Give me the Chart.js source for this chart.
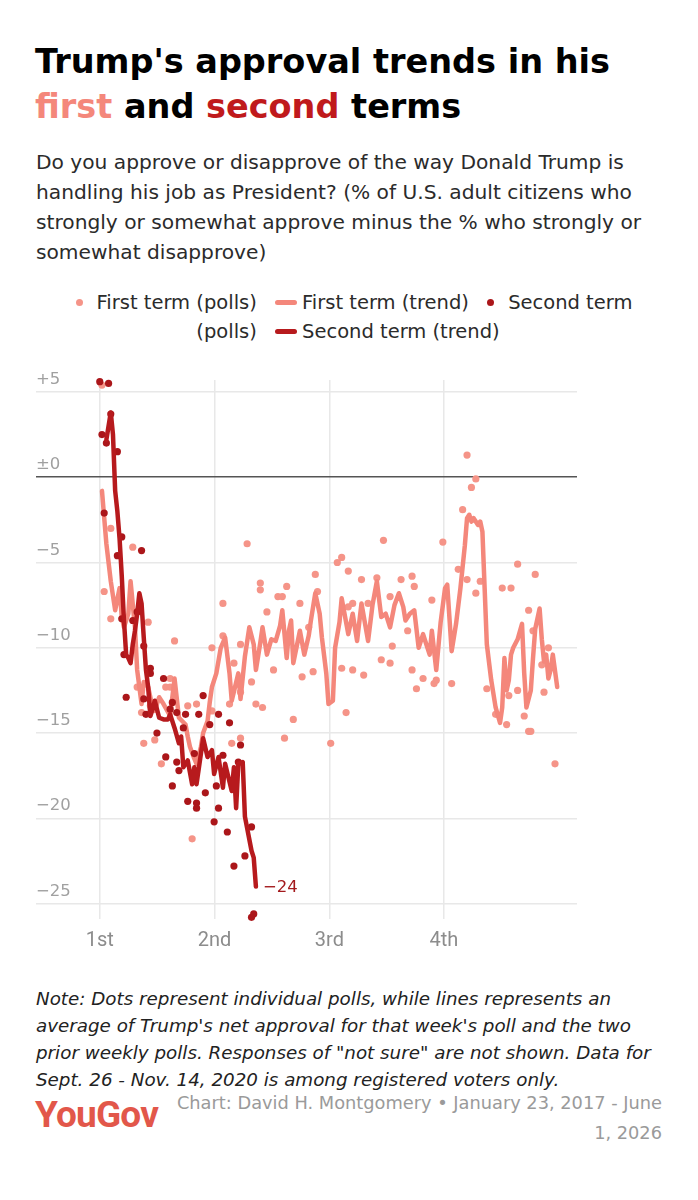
<!DOCTYPE html>
<html>
<head>
<meta charset="utf-8">
<title>Trump's approval trends in his first and second terms</title>
<script src="https://cdn.jsdelivr.net/npm/chart.js@4.4.1/dist/chart.umd.min.js"></script>
<style>
    body {
        margin: 0;
        background: #fff;
        font-family: "DejaVu Sans", Roboto, sans-serif;
        color: #222;
    }
    #page {
        position: relative;
        width: 698px;
        height: 1200px;
        overflow: hidden;
    }
    h1 {
        position: absolute;
        left: 35px;
        top: 39px;
        margin: 0;
        font-size: 33.5px;
        line-height: 45px;
        font-weight: 700;
        color: #000;
        letter-spacing: 0;
        white-space: nowrap;
    }
    h1 .first { color: #f4877b; }
    h1 .second { color: #c01a1c; }
    #subtitle {
        position: absolute;
        left: 36px;
        top: 147px;
        width: 650px;
        margin: 0;
        font-size: 20.2px;
        line-height: 30px;
        color: #2b2b2b;
    }
    #legenda {
        position: absolute;
        left: 45px;
        top: 288px;
        width: 612px;
        text-align: center;
        font-size: 19.5px;
        line-height: 29px;
        color: #2b2b2b;
    }
    #legenda .item { margin: 0 6px; }
    #legenda .dot {
        display: inline-block;
        width: 7px;
        height: 7px;
        border-radius: 50%;
        margin-right: 14px;
        vertical-align: 3px;
    }
    #legenda .line {
        display: inline-block;
        width: 22px;
        height: 5px;
        border-radius: 3px;
        margin-right: 5px;
        vertical-align: 4px;
    }
    #grafico {
        position: absolute;
        left: 0;
        top: 370px;
    }
    #nota {
        position: absolute;
        left: 36px;
        top: 985px;
        width: 620px;
        margin: 0;
        font-size: 18.3px;
        line-height: 27px;
        font-style: italic;
        color: #222;
    }
    #logo {
        position: absolute;
        left: 35px;
        top: 1093px;
        font-family: Roboto, sans-serif;
        font-size: 37px;
        font-weight: 700;
        color: #e2574a;
        letter-spacing: -0.8px;
    }
    #credito {
        position: absolute;
        left: 160px;
        top: 1088px;
        width: 502px;
        text-align: right;
        font-size: 17.8px;
        line-height: 30px;
        color: #9a9a9a;
    }
</style>
</head>
<body>
<div id="page">
    <h1>Trump's approval trends in his<br><span class="first">first</span> and <span class="second">second</span> terms</h1>
    <p id="subtitle">Do you approve or disapprove of the way Donald Trump is handling his job as President? (% of U.S. adult citizens who strongly or somewhat approve minus the % who strongly or somewhat disapprove)</p>
    <div id="legenda"></div>
    <canvas id="grafico" width="698" height="592"></canvas>
    <p id="nota">Note: Dots represent individual polls, while lines represents an average of Trump's net approval for that week's poll and the two prior weekly polls. Responses of "not sure" are not shown. Data for Sept. 26 - Nov. 14, 2020 is among registered voters only.</p>
    <div id="logo">YouGov</div>
    <div id="credito">Chart: David H. Montgomery • January 23, 2017 - June 1, 2026</div>
</div>

<script>
// x = weeks since the start of each term, y = net approval (approve - disapprove)
const termStarts = [0, 52.2, 104.4, 156.5];
const termLabels = ['1st', '2nd', '3rd', '4th'];
const yTicks = [5, 0, -5, -10, -15, -20, -25];

const firstTrendWeek = [1, 3, 5, 7, 9, 10, 11, 13, 14, 16, 17, 19, 20, 22, 24, 25, 27, 29, 32, 34,
    36, 39, 40, 41, 43, 44, 46, 47, 49, 50, 51, 53, 55, 57, 59, 60, 63, 64, 66, 68,
    70, 71, 73, 74, 76, 78, 80, 82, 83, 85, 86, 87, 88, 91, 93, 95, 96, 98, 100, 101,
    103, 104, 106, 107, 109, 110, 113, 115, 117, 118, 119, 122, 124, 126, 128, 130, 132, 134, 136, 138,
    139, 141, 143, 145, 147, 148, 150, 151, 153, 155, 157, 158, 160, 162, 164, 166, 167, 168, 169, 170,
    172, 173, 174, 175, 176, 178, 180, 182, 183, 184, 185, 186, 187, 188, 190, 192, 193, 194, 196, 197,
    198, 200, 201, 202, 203, 204, 205, 206, 208];
const firstTrendNet = [-0.8, -3.9, -6.1, -7.8, -6.5, -8.2, -8.8, -8.0, -6.1, -8.8, -11.3, -13.3, -12.0, -12.3, -13.5, -13.7, -12.9, -13.3, -14.0, -11.8,
    -14.1, -14.5, -15.2, -15.8, -16.5, -16.8, -15.8, -15.0, -14.3, -13.2, -12.3, -11.5, -10.0, -9.4, -11.5, -13.1, -11.5, -13.0, -10.5, -8.8,
    -9.8, -11.3, -9.7, -8.8, -10.4, -9.5, -9.6, -8.7, -7.8, -10.6, -9.0, -8.4, -10.9, -9.0, -10.4, -9.3, -8.4, -6.8, -8.0, -9.4,
    -11.5, -13.3, -13.1, -10.0, -8.5, -7.1, -9.2, -8.0, -9.6, -8.5, -7.4, -9.6, -7.5, -6.1, -8.2, -8.0, -8.8, -7.5, -6.8, -7.6,
    -8.4, -8.0, -7.8, -10.0, -9.2, -9.6, -10.4, -9.0, -11.3, -8.5, -6.5, -6.3, -10.2, -8.6, -6.5, -4.0, -2.4, -2.2, -2.6, -2.4,
    -2.8, -2.6, -3.2, -6.5, -9.8, -11.9, -13.5, -14.4, -13.5, -10.6, -12.5, -11.9, -10.4, -10.0, -9.5, -8.6, -11.5, -13.5, -12.5, -10.6,
    -8.9, -7.7, -9.5, -10.8, -10.4, -11.8, -11.3, -10.4, -12.3];

const firstPollWeek = [1, 2, 5, 5, 15, 17, 19, 20, 22, 23, 25, 28, 30, 32, 32, 34, 40, 42, 44, 51,
    51, 56, 56, 59, 60, 61, 64, 64, 64, 67, 69, 71, 73, 73, 74, 76, 79, 81, 83, 84,
    85, 88, 91, 92, 95, 97, 98, 99, 105, 108, 110, 110, 112, 113, 113, 115, 115, 119, 120, 122,
    126, 128, 129, 132, 132, 133, 137, 140, 142, 142, 143, 144, 147, 151, 152, 153, 156, 160, 163, 165,
    167, 167, 169, 171, 171, 173, 176, 180, 183, 185, 186, 187, 190, 190, 193, 195, 195, 196, 197, 198,
    201, 202, 204, 207];
const firstPollNet = [5.4, -6.7, -3.0, -8.3, -4.1, -12.3, -13.8, -15.6, -8.5, -13.4, -15.4, -16.8, -12.3, -11.8, -12.3, -9.6, -13.4, -21.2, -13.3, -10.0,
    -13.7, -9.3, -7.4, -13.3, -15.6, -10.9, -9.8, -15.3, -12.6, -3.9, -12.0, -13.3, -6.2, -6.6, -13.5, -7.9, -11.3, -7.0, -7.0, -15.3,
    -6.4, -14.2, -7.4, -11.7, -8.8, -11.4, -5.7, -6.7, -15.6, -5.0, -4.7, -11.2, -13.8, -5.5, -7.6, -11.3, -7.4, -6.0, -11.6, -7.4,
    -5.9, -10.7, -3.7, -10.9, -7.0, -9.9, -6.0, -9.0, -5.8, -11.3, -6.4, -12.4, -11.8, -7.2, -12.1, -11.9, -3.8, -12.1, -5.4, -1.9,
    1.3, -6.0, -0.6, -0.1, -6.8, -6.1, -12.4, -13.9, -6.5, -14.5, -12.8, -6.5, -5.1, -12.5, -14.0, -14.9, -7.8, -14.9, -9.0, -5.7,
    -11.0, -12.6, -10.0, -16.8];

const secondTrendWeek = [3, 5, 6, 7, 8, 9, 10, 11, 12, 13, 14, 15, 16, 17, 18, 19, 20, 21, 22, 23,
    24, 25, 27, 29, 31, 32, 34, 36, 37, 38, 40, 42, 43, 44, 47, 49, 51, 52, 54, 56,
    57, 60, 61, 62, 63, 65, 66, 69, 70, 71];
const secondTrendNet = [2.2, 3.8, 2.5, -0.8, -2.0, -3.6, -5.8, -8.4, -10.4, -10.6, -10.9, -9.8, -9.0, -8.0, -6.8, -7.4, -9.4, -11.3, -12.3, -14.0,
    -13.6, -13.1, -14.1, -14.2, -14.2, -13.9, -14.7, -15.6, -15.2, -17.0, -16.6, -18.0, -17.0, -18.0, -15.3, -16.4, -16.0, -17.4, -16.4, -18.2,
    -16.8, -18.4, -17.0, -19.4, -16.8, -16.7, -19.9, -21.9, -22.3, -24.0];

const secondPollWeek = [0, 1, 2, 3, 4, 5, 8, 8, 10, 10, 11, 12, 15, 17, 19, 20, 20, 21, 23, 23,
    26, 29, 30, 32, 33, 33, 35, 35, 36, 38, 39, 40, 43, 44, 44, 45, 47, 48, 50, 52,
    53, 54, 54, 56, 58, 59, 61, 63, 64, 66, 69, 69, 70];
const secondPollNet = [5.6, 2.5, -2.1, 2.0, 5.5, 3.7, 1.5, -4.6, -3.5, -8.3, -10.4, -12.9, -8.4, -7.9, -4.3, -9.9, -13.0, -13.9, -11.2, -11.5,
    -15.0, -11.8, -16.4, -13.6, -13.2, -18.1, -13.8, -16.7, -17.2, -14.7, -13.9, -19.0, -16.2, -19.1, -19.4, -13.9, -12.8, -18.5, -14.5, -20.2,
    -18.1, -13.9, -19.4, -16.3, -20.8, -14.4, -22.8, -16.7, -15.7, -22.2, -20.5, -25.8, -25.6];

const salmon = '#f4877b';
const salmonDot = '#f59488';
const darkRed = '#b71a1d';
const darkRedDot = '#ab161a';

function pontos(xs, ys) {
    return xs.map((x, i) => ({ x: x, y: ys[i] }));
}

function rotuloY(v) {
    if (v > 0) return '+' + v;
    if (v === 0) return '±0';
    return '\u2212' + Math.abs(v);
}

const rotulosEixoY = {
    id: 'rotulosEixoY',
    beforeDatasetsDraw(chart) {
        const ctx = chart.ctx;
        const y = chart.scales.y;
        ctx.save();
        ctx.font = '16.5px "DejaVu Sans", sans-serif';
        ctx.fillStyle = '#a0a0a0';
        ctx.textAlign = 'left';
        ctx.textBaseline = 'alphabetic';
        yTicks.forEach(v => {
            ctx.fillText(rotuloY(v), chart.chartArea.left, y.getPixelForValue(v) - 8);
        });
        ctx.restore();
    }
};

const rotuloFinal = {
    id: 'rotuloFinal',
    afterDatasetsDraw(chart) {
        const meta = chart.getDatasetMeta(3);
        const last = meta.data[meta.data.length - 1];
        const ctx = chart.ctx;
        ctx.save();
        ctx.font = '16.5px "DejaVu Sans", sans-serif';
        ctx.fillStyle = '#a3191c';
        ctx.textAlign = 'left';
        ctx.textBaseline = 'middle';
        ctx.fillText(rotuloY(Math.round(secondTrendNet[secondTrendNet.length - 1])), last.x + 7, last.y + 1);
        ctx.restore();
    }
};

function carregarGrafico() {
    const ctx = document.getElementById('grafico').getContext('2d');
    Chart.defaults.font.family = 'Roboto, sans-serif';

    const chart = new Chart(ctx, {
        type: 'line',
        data: {
            datasets: [{
                label: 'First term (polls)',
                data: pontos(firstPollWeek, firstPollNet),
                showLine: false,
                pointRadius: 3.6,
                pointBackgroundColor: salmonDot,
                pointBorderWidth: 0,
                backgroundColor: salmonDot,
                order: 3,
                clip: false
            }, {
                label: 'First term (trend)',
                data: pontos(firstTrendWeek, firstTrendNet),
                borderColor: salmon,
                borderWidth: 4.5,
                borderJoinStyle: 'round',
                borderCapStyle: 'round',
                pointRadius: 0,
                tension: 0,
                order: 2
            }, {
                label: 'Second term (polls)',
                data: pontos(secondPollWeek, secondPollNet),
                showLine: false,
                pointRadius: 3.6,
                pointBackgroundColor: darkRedDot,
                pointBorderWidth: 0,
                backgroundColor: darkRedDot,
                order: 1,
                clip: false
            }, {
                label: 'Second term (trend)',
                data: pontos(secondTrendWeek, secondTrendNet),
                borderColor: darkRed,
                borderWidth: 4.5,
                borderJoinStyle: 'round',
                borderCapStyle: 'round',
                pointRadius: 0,
                tension: 0,
                order: 0
            }]
        },
        options: {
            responsive: false,
            animation: false,
            layout: { padding: { left: 36, right: 121, top: 10, bottom: 0 } },
            plugins: {
                legend: { display: false },
                tooltip: { enabled: false }
            },
            scales: {
                x: {
                    type: 'linear',
                    min: -29,
                    max: 217,
                    afterBuildTicks: s => { s.ticks = termStarts.map(v => ({ value: v })); },
                    afterFit: s => { s.height = 43; },
                    border: { display: false },
                    grid: { color: '#e8e8e8', lineWidth: 1.5, drawTicks: false },
                    ticks: {
                        color: '#8c8c8c',
                        font: { size: 20 },
                        padding: 10,
                        maxRotation: 0,
                        callback: v => termLabels[termStarts.indexOf(v)]
                    }
                },
                y: {
                    min: -25.9,
                    max: 5.7,
                    afterBuildTicks: s => { s.ticks = yTicks.map(v => ({ value: v })); },
                    afterFit: s => { s.width = 0; },
                    border: { display: false },
                    grid: {
                        color: c => c.tick && c.tick.value === 0 ? '#555555' : '#e8e8e8',
                        lineWidth: 1.5,
                        drawTicks: false
                    },
                    ticks: { display: false }
                }
            }
        },
        plugins: [rotulosEixoY, rotuloFinal]
    });

    montarLegenda(chart);
}

function montarLegenda(chart) {
    const div = document.getElementById('legenda');
    const itens = chart.data.datasets.map(ds => {
        const cor = ds.showLine === false ? ds.backgroundColor : ds.borderColor;
        const marca = ds.showLine === false
            ? `<i class="dot" style="background:${cor}"></i>`
            : `<i class="line" style="background:${cor}"></i>`;
        return `<span class="item">${marca}${ds.label}</span>`;
    });
    div.innerHTML = itens.join(' ');
}

document.addEventListener("DOMContentLoaded", () => {
    carregarGrafico();
});
</script>
</body>
</html>
